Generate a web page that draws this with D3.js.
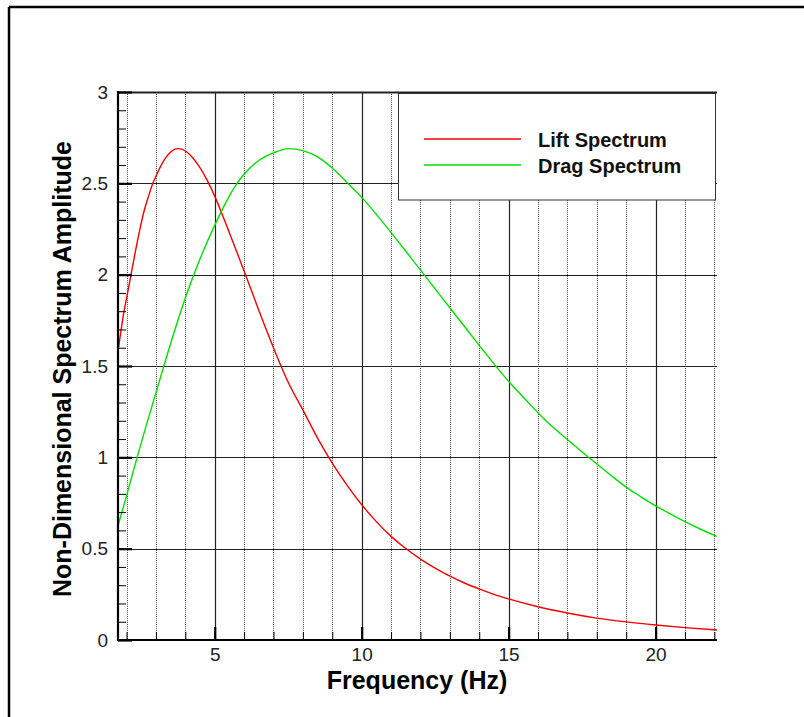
<!DOCTYPE html>
<html>
<head>
<meta charset="utf-8">
<script src="https://cdn.jsdelivr.net/npm/d3@7"></script>
<style>
  html, body { margin: 0; padding: 0; background: #fff; }
  svg { display: block; }
  text { font-family: "Liberation Sans", Arial, Helvetica, sans-serif; }
</style>
</head>
<body>
<svg id="chart" width="804" height="717"></svg>
<script>
// Lift spectrum (frequency in Hz, non-dimensional amplitude)
const liftFreq = [1.71, 1.8, 1.9, 2.0, 2.13, 2.3, 2.47, 2.6, 2.75, 2.87, 3.02, 3.2, 3.38, 3.55, 3.74, 3.9, 4.04, 4.25, 4.46, 4.75, 5.0, 5.42, 5.75, 6.07, 6.5, 7.0, 7.23, 7.46, 8.03, 8.5, 9.01, 9.5, 10.03, 10.5, 11.01, 11.49, 12.03, 12.5, 13.02, 13.5, 14.04, 14.5, 15.0, 16.0, 17.0, 18.0, 19.0, 20.0, 21.0, 22.09];
const liftAmp  = [1.58, 1.68, 1.785, 1.87, 1.98, 2.125, 2.26, 2.35, 2.43, 2.49, 2.545, 2.605, 2.65, 2.678, 2.69, 2.686, 2.673, 2.64, 2.595, 2.515, 2.43, 2.262, 2.125, 1.99, 1.805, 1.60, 1.51, 1.425, 1.25, 1.105, 0.965, 0.848, 0.735, 0.648, 0.566, 0.502, 0.44, 0.393, 0.348, 0.312, 0.277, 0.25, 0.225, 0.182, 0.148, 0.12, 0.099, 0.082, 0.068, 0.055];

// Drag spectrum
const dragFreq = [1.71, 1.96, 2.36, 2.44, 2.7, 2.93, 3.27, 3.6, 4.04, 4.29, 4.6, 5.0, 5.3, 5.53, 5.76, 6.04, 6.5, 7.0, 7.52, 8.03, 8.5, 8.99, 9.56, 10.05, 10.5, 11.03, 11.43, 12.05, 12.5, 13.02, 13.5, 14.04, 14.55, 15.02, 15.6, 16.19, 16.76, 17.2, 17.72, 18.3, 19.06, 19.5, 20.05, 20.5, 21.07, 21.5, 22.09];
const dragAmp  = [0.625, 0.766, 1.0, 1.045, 1.19, 1.315, 1.5, 1.675, 1.89, 2.0, 2.125, 2.27, 2.37, 2.44, 2.5, 2.558, 2.625, 2.667, 2.69, 2.678, 2.645, 2.585, 2.495, 2.415, 2.33, 2.225, 2.143, 2.015, 1.922, 1.815, 1.716, 1.605, 1.502, 1.412, 1.312, 1.213, 1.13, 1.07, 1.0, 0.925, 0.83, 0.784, 0.73, 0.69, 0.642, 0.609, 0.567];

const seriesNames  = ["Lift Spectrum", "Drag Spectrum"];
const seriesColors = ["#f00000", "#00e000"];

// Axis ticks
const xMajorTicks = [5, 10, 15, 20];
const xMinorTicks = [2, 3, 4, 5, 6, 7, 8, 9, 10, 11, 12, 13, 14, 15, 16, 17, 18, 19, 20, 21, 22];
const yMajorTicks = [0, 0.5, 1, 1.5, 2, 2.5, 3];
const yMinorTicks = [0, 0.1, 0.2, 0.3, 0.4, 0.5, 0.6, 0.7, 0.8, 0.9, 1, 1.1, 1.2, 1.3, 1.4, 1.5, 1.6, 1.7, 1.8, 1.9, 2, 2.1, 2.2, 2.3, 2.4, 2.5, 2.6, 2.7, 2.8, 2.9, 3];
const yTickLabels = ["0", "0.5", "1", "1.5", "2", "2.5", "3"];

const svg = d3.select("#chart");
const W = 804, H = 717;
const plot = { left: 118, right: 717, top: 92, bottom: 640 };

const x = d3.scaleLinear().domain([1.71, 22.09]).range([plot.left, plot.right]);
const y = d3.scaleLinear().domain([0, 3]).range([plot.bottom, plot.top]);

svg.append("rect").attr("width", W).attr("height", H).attr("fill", "#fff");

// outer frame (top and left edges)
svg.append("line").attr("x1", 9).attr("x2", W).attr("y1", 7).attr("y2", 7)
  .attr("stroke", "#000").attr("stroke-width", 2.5);
svg.append("line").attr("x1", 9).attr("x2", 9).attr("y1", 7).attr("y2", H)
  .attr("stroke", "#000").attr("stroke-width", 2.5);

svg.append("clipPath").attr("id", "plotClip").append("rect")
  .attr("x", plot.left).attr("y", plot.top)
  .attr("width", plot.right - plot.left).attr("height", plot.bottom - plot.top);

// dotted vertical grid at integer frequencies
const minorOnly = xMinorTicks.filter(v => !xMajorTicks.includes(v));
svg.append("g").attr("class", "grid-minor")
  .selectAll("line").data(minorOnly).join("line")
  .attr("x1", d => Math.round(x(d)) + 0.5).attr("x2", d => Math.round(x(d)) + 0.5)
  .attr("y1", plot.top).attr("y2", plot.bottom)
  .attr("stroke", "#555").attr("stroke-width", 1).attr("stroke-dasharray", "1,1");

// solid grid
svg.append("g").attr("class", "grid-major-x")
  .selectAll("line").data(xMajorTicks).join("line")
  .attr("x1", d => Math.round(x(d)) + 0.5).attr("x2", d => Math.round(x(d)) + 0.5)
  .attr("y1", plot.top).attr("y2", plot.bottom)
  .attr("stroke", "#222").attr("stroke-width", 1.2);
svg.append("g").attr("class", "grid-major-y")
  .selectAll("line").data(yMajorTicks).join("line")
  .attr("x1", plot.left).attr("x2", plot.right)
  .attr("y1", d => Math.round(y(d)) + 0.5).attr("y2", d => Math.round(y(d)) + 0.5)
  .attr("stroke", "#222").attr("stroke-width", d => d === 3 ? 1.8 : 1.2);

// spectrum curves
const series = [
  liftFreq.map((f, i) => [f, liftAmp[i]]),
  dragFreq.map((f, i) => [f, dragAmp[i]])
];
const line = d3.line().x(d => x(d[0])).y(d => y(d[1])).curve(d3.curveMonotoneX);
svg.append("g").attr("clip-path", "url(#plotClip)")
  .selectAll("path").data(series).join("path")
  .attr("d", line).attr("fill", "none")
  .attr("stroke", (d, i) => seriesColors[i]).attr("stroke-width", 1.4);

// legend
const legend = svg.append("g").attr("class", "legend");
legend.append("rect").attr("x", 398.5).attr("y", 93.5).attr("width", 317).attr("height", 106.5)
  .attr("fill", "#fff").attr("stroke", "#333").attr("stroke-width", 1);
const legendRows = legend.selectAll("g.row").data(seriesNames).join("g").attr("class", "row")
  .attr("transform", (d, i) => `translate(0, ${139 + i * 26})`);
legendRows.append("line").attr("x1", 424).attr("x2", 521).attr("y1", 0).attr("y2", 0)
  .attr("stroke", (d, i) => seriesColors[i]).attr("stroke-width", 1.4);
legendRows.append("text").attr("x", 538).attr("y", 7.5)
  .attr("font-size", 20).attr("font-weight", "bold").attr("fill", "#111")
  .text(d => d);

// y axis: minor and major inward ticks, then labels
const yMinor = svg.append("g").attr("transform", `translate(${plot.left},0)`)
  .call(d3.axisRight(y).tickValues(yMinorTicks).tickSize(8).tickFormat(""));
yMinor.select(".domain").remove();
yMinor.selectAll("line").attr("stroke", "#000").attr("stroke-width", 1);
const yMajor = svg.append("g").attr("transform", `translate(${plot.left},0)`)
  .call(d3.axisRight(y).tickValues(yMajorTicks).tickSize(14).tickFormat(""));
yMajor.select(".domain").remove();
yMajor.selectAll("line").attr("stroke", "#000").attr("stroke-width", 2.2);
const yLabels = svg.append("g").attr("transform", `translate(${plot.left},0)`)
  .call(d3.axisLeft(y).tickValues(yMajorTicks).tickSize(0).tickPadding(10)
    .tickFormat((d, i) => yTickLabels[i]));
yLabels.select(".domain").remove();
yLabels.selectAll("text").attr("font-size", 19).attr("fill", "#222")
  .attr("font-family", "'Liberation Sans', Arial, sans-serif");

// x axis: minor and major inward ticks, then labels
const xMinor = svg.append("g").attr("transform", `translate(0,${plot.bottom})`)
  .call(d3.axisTop(x).tickValues(xMinorTicks).tickSize(8).tickFormat(""));
xMinor.select(".domain").remove();
xMinor.selectAll("line").attr("stroke", "#000").attr("stroke-width", 1);
const xMajor = svg.append("g").attr("transform", `translate(0,${plot.bottom})`)
  .call(d3.axisTop(x).tickValues(xMajorTicks).tickSize(13).tickFormat(""));
xMajor.select(".domain").remove();
xMajor.selectAll("line").attr("stroke", "#000").attr("stroke-width", 2.2);
const xLabels = svg.append("g").attr("transform", `translate(0,${plot.bottom})`)
  .call(d3.axisBottom(x).tickValues(xMajorTicks).tickSize(0).tickPadding(8).tickFormat(d3.format("d")));
xLabels.select(".domain").remove();
xLabels.selectAll("text").attr("font-size", 19).attr("fill", "#222")
  .attr("font-family", "'Liberation Sans', Arial, sans-serif");

// axis lines
svg.append("line").attr("x1", plot.left).attr("x2", plot.left).attr("y1", plot.top - 1).attr("y2", plot.bottom + 1)
  .attr("stroke", "#000").attr("stroke-width", 2.2);
svg.append("line").attr("x1", plot.left - 1).attr("x2", plot.right).attr("y1", plot.bottom).attr("y2", plot.bottom)
  .attr("stroke", "#000").attr("stroke-width", 2.2);

// axis titles
svg.append("text").attr("x", 417).attr("y", 689).attr("text-anchor", "middle")
  .attr("font-size", 25).attr("font-weight", "bold").attr("fill", "#000")
  .text("Frequency (Hz)");
svg.append("text").attr("transform", "translate(71,369) rotate(-90)").attr("text-anchor", "middle")
  .attr("font-size", 25).attr("font-weight", "bold").attr("fill", "#000")
  .text("Non-Dimensional Spectrum Amplitude");
</script>
</body>
</html>
